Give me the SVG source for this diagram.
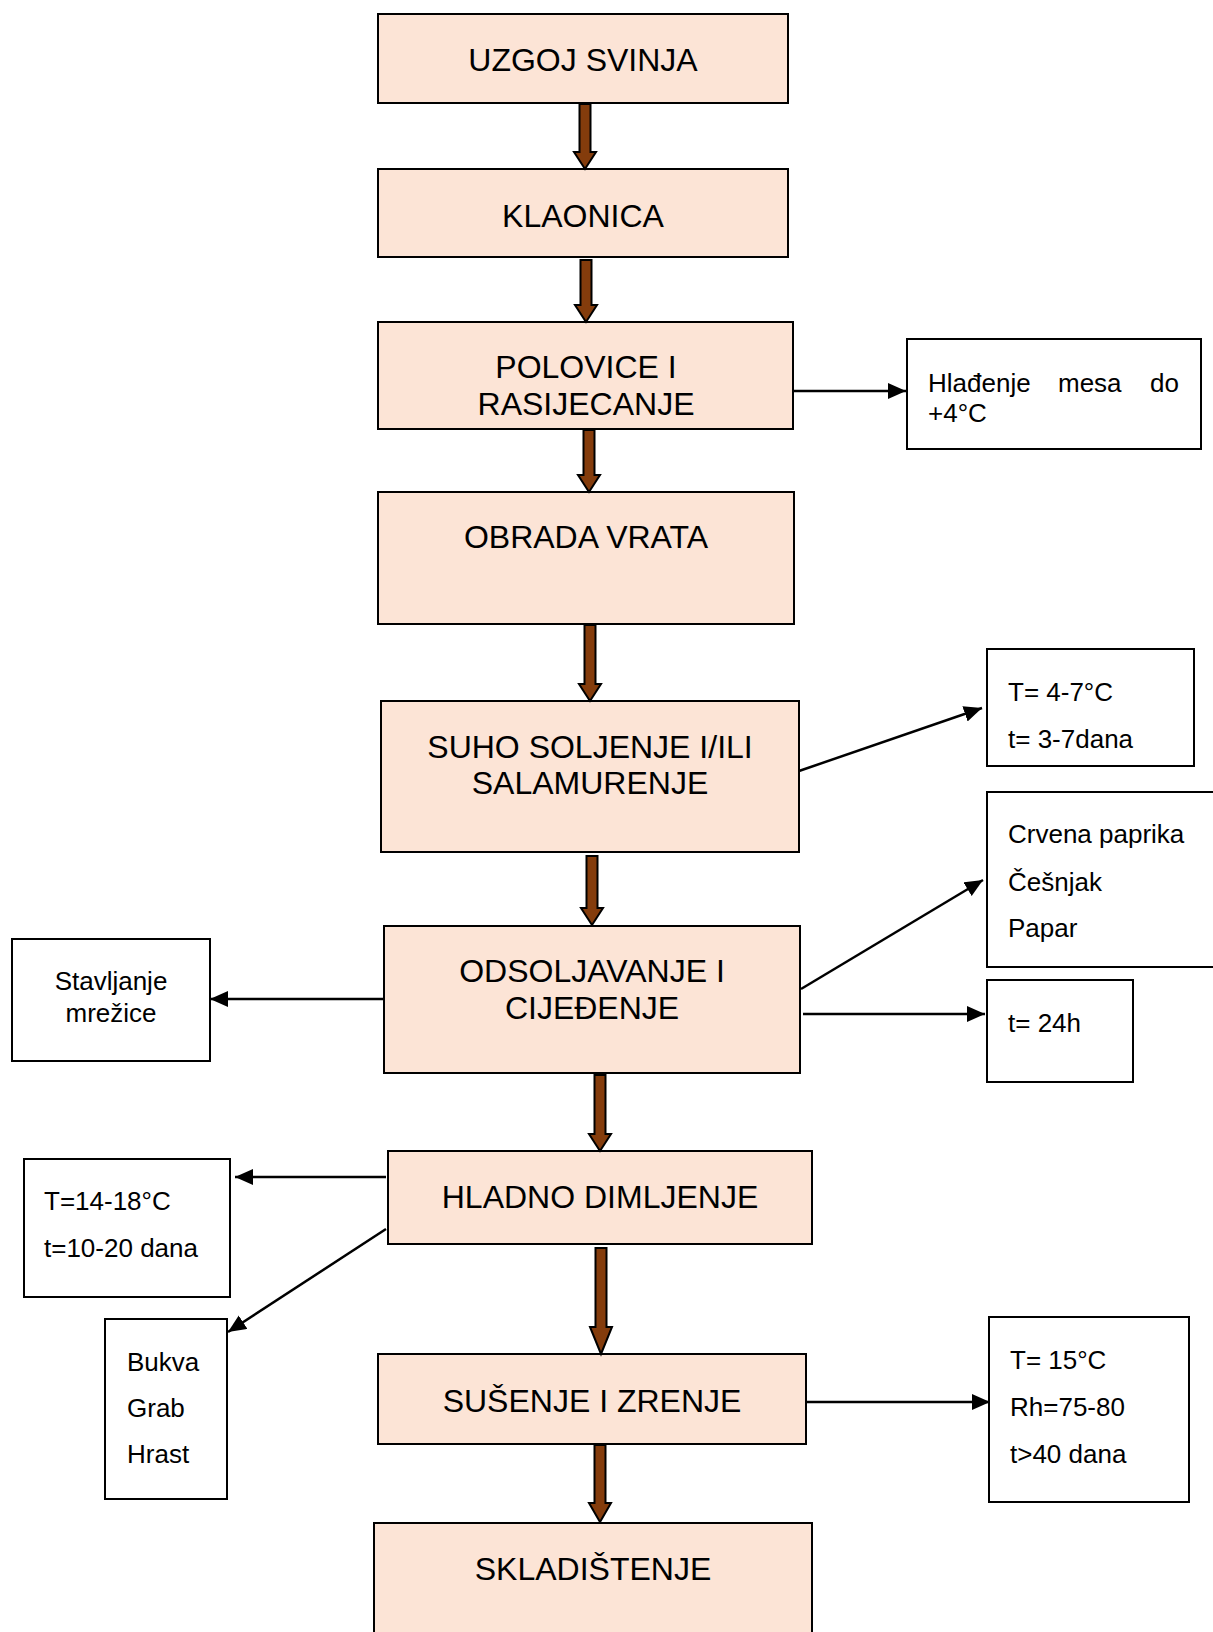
<svg xmlns="http://www.w3.org/2000/svg" width="1213" height="1632" viewBox="0 0 1213 1632">
<style>
.step{fill:#FCE4D6;stroke:#000;stroke-width:2}
.side{fill:#fff;stroke:#000;stroke-width:2}
.mt{font-family:"Liberation Sans",Arial,sans-serif;font-size:32px;fill:#000;text-anchor:middle}
.st{font-family:"Liberation Sans",Arial,sans-serif;font-size:26px;fill:#000}
.blk{fill:#843C0C;stroke:#000;stroke-width:2;stroke-linejoin:miter}
.ln{stroke:#000;stroke-width:2.5;fill:none;marker-end:url(#ah)}
</style>
<defs>
<marker id="ah" markerUnits="userSpaceOnUse" markerWidth="20" markerHeight="18" refX="18" refY="8" orient="auto">
<path d="M0,0 L18,8 L0,16 Z" fill="#000"/>
</marker>
</defs>
<rect width="1213" height="1632" fill="#fff"/>

<g id="n1"><rect class="step" x="378" y="14" width="410" height="89"/><text class="mt" x="583" y="71">UZGOJ SVINJA</text></g>
<g id="n2"><rect class="step" x="378" y="169" width="410" height="88"/><text class="mt" x="583" y="227">KLAONICA</text></g>
<g id="n3"><rect class="step" x="378" y="322" width="415" height="107"/><text class="mt" x="586" y="378">POLOVICE I</text><text class="mt" x="586" y="415">RASIJECANJE</text></g>
<g id="n4"><rect class="step" x="378" y="492" width="416" height="132"/><text class="mt" x="586" y="548">OBRADA VRATA</text></g>
<g id="n5"><rect class="step" x="381" y="701" width="418" height="151"/><text class="mt" x="590" y="758">SUHO SOLJENJE I/ILI</text><text class="mt" x="590" y="794">SALAMURENJE</text></g>
<g id="n6"><rect class="step" x="384" y="926" width="416" height="147"/><text class="mt" x="592" y="982">ODSOLJAVANJE I</text><text class="mt" x="592" y="1019">CIJEĐENJE</text></g>
<g id="n7"><rect class="step" x="388" y="1151" width="424" height="93"/><text class="mt" x="600" y="1208">HLADNO DIMLJENJE</text></g>
<g id="n8"><rect class="step" x="378" y="1354" width="428" height="90"/><text class="mt" x="592" y="1412">SUŠENJE I ZRENJE</text></g>
<g id="n9"><rect class="step" x="374" y="1523" width="438" height="130"/><text class="mt" x="593" y="1580">SKLADIŠTENJE</text></g>

<g id="s1"><rect class="side" x="907" y="339" width="294" height="110"/><text class="st" y="392"><tspan x="928">Hlađenje</tspan><tspan x="1058">mesa</tspan><tspan x="1150">do</tspan></text><text class="st" x="928" y="422">+4°C</text></g>
<g id="s2"><rect class="side" x="987" y="649" width="207" height="117"/><text class="st" x="1008" y="701">T= 4-7°C</text><text class="st" x="1008" y="748">t= 3-7dana</text></g>
<g id="s3"><rect class="side" x="987" y="792" width="240" height="175"/><text class="st" x="1008" y="843">Crvena paprika</text><text class="st" x="1008" y="891">Češnjak</text><text class="st" x="1008" y="937">Papar</text></g>
<g id="s4"><rect class="side" x="987" y="980" width="146" height="102"/><text class="st" x="1008" y="1032">t= 24h</text></g>
<g id="s5"><rect class="side" x="12" y="939" width="198" height="122"/><text class="st" x="111" y="990" text-anchor="middle">Stavljanje</text><text class="st" x="111" y="1022" text-anchor="middle">mrežice</text></g>
<g id="s6"><rect class="side" x="24" y="1159" width="206" height="138"/><text class="st" x="44" y="1210">T=14-18°C</text><text class="st" x="44" y="1257">t=10-20 dana</text></g>
<g id="s7"><rect class="side" x="105" y="1319" width="122" height="180"/><text class="st" x="127" y="1371">Bukva</text><text class="st" x="127" y="1417">Grab</text><text class="st" x="127" y="1463">Hrast</text></g>
<g id="s8"><rect class="side" x="989" y="1317" width="200" height="185"/><text class="st" x="1010" y="1369">T= 15°C</text><text class="st" x="1010" y="1416">Rh=75-80</text><text class="st" x="1010" y="1463">t&gt;40 dana</text></g>

<g id="connectors">
<path class="blk" d="M579.5,104 H590.5 V152 H596 L585,169 L574,152 H579.5 Z"/>
<path class="blk" d="M580.5,260 H591.5 V305 H597 L586,322 L575,305 H580.5 Z"/>
<path class="blk" d="M583.5,430 H594.5 V475 H600 L589,492 L578,475 H583.5 Z"/>
<path class="blk" d="M584.5,625 H595.5 V684 H601 L590,701 L579,684 H584.5 Z"/>
<path class="blk" d="M586.5,856 H597.5 V908 H603 L592,925 L581,908 H586.5 Z"/>
<path class="blk" d="M594.5,1075 H605.5 V1134 H611 L600,1151 L589,1134 H594.5 Z"/>
<path class="blk" d="M595.5,1248 H606.5 V1327 H612 L601,1354 L590,1327 H595.5 Z"/>
<path class="blk" d="M594.5,1445 H605.5 V1503 H611 L600,1522 L589,1503 H594.5 Z"/>
<line class="ln" x1="793" y1="391" x2="906" y2="391"/>
<line class="ln" x1="799" y1="771" x2="982" y2="708"/>
<line class="ln" x1="801" y1="989" x2="983" y2="880"/>
<line class="ln" x1="803" y1="1014" x2="985" y2="1014"/>
<line class="ln" x1="384" y1="999" x2="210" y2="999"/>
<line class="ln" x1="386" y1="1177" x2="235" y2="1177"/>
<line class="ln" x1="386" y1="1229" x2="228" y2="1332"/>
<line class="ln" x1="806" y1="1402" x2="990" y2="1402"/>
</g>
</svg>
